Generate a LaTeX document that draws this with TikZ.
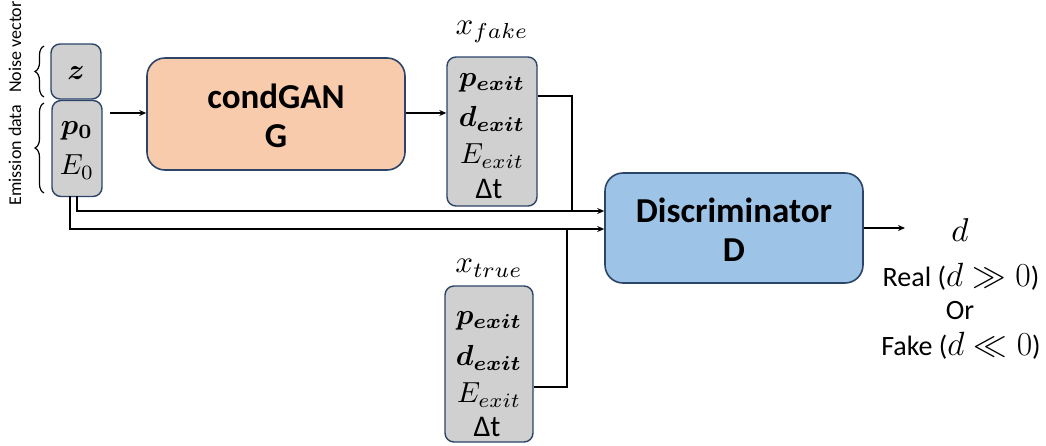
\documentclass[tikz,border=0pt]{standalone}
\usepackage{amsmath,bm,graphicx}
\usepackage{fontspec}
\setmainfont{Carlito}
\usetikzlibrary{arrows.meta,decorations.pathreplacing}
\definecolor{bordc}{HTML}{2B4468}
\definecolor{grayf}{HTML}{D0D0D0}
\definecolor{orangef}{HTML}{F8CBAD}
\definecolor{bluef}{HTML}{9DC3E6}
\newcommand{\mybm}[1]{\scalebox{2.9}{$#1$}}
\newcommand{\mymm}[1]{\scalebox{3.1}{$#1$}}
\tikzset{
  box/.style={draw=bordc, line width=1.4pt, rounded corners=9pt, inner sep=0pt},
  bigbox/.style={draw=bordc, line width=1.6pt, rounded corners=18pt, inner sep=0pt},
  conn/.style={line width=1.8pt, black},
  arr/.style={conn, -{Stealth[length=7pt,width=6pt]}},
  title/.style={font=\fontsize{35}{40}\selectfont\bfseries},
  mtxt/.style={inner sep=0pt},
  rtxt/.style={font=\fontsize{28}{32}\selectfont, inner sep=0pt},
  dtxt/.style={font=\fontsize{30}{32}\selectfont, inner sep=0pt},
  side/.style={font=\fontsize{18}{20}\selectfont, rotate=90, inner sep=0pt},
  brc/.style={decorate, decoration={brace, amplitude=9pt}, line width=1.2pt}
}
\begin{document}
\begin{tikzpicture}[x=1pt,y=-1pt]
\useasboundingbox (0,0) rectangle (1046,445);
% left input boxes
\node[box, fill=grayf, minimum width=50pt, minimum height=55pt] (zbox) at (76,71.5) {};
\node[mtxt] (zt) at (76,73) {\mybm{\bm{z}}};
\node[box, fill=grayf, minimum width=50pt, minimum height=96pt] (pbox) at (77,148.5) {};
\node[mtxt] (p0) at (77,131) {\mybm{\bm{p_0}}};
\node[mtxt] (e0) at (77,167) {\mybm{E_0}};
% braces and side labels
\draw[brc] (44,97) -- (44,46);
\draw[brc] (44,193) -- (44,103);
\node[side] (nv) at (15,47) {Noise vector};
\node[side] (ed) at (15,155) {Emission data};
% generator
\node[bigbox, fill=orangef, minimum width=258pt, minimum height=112pt] (gen) at (276,114) {};
\node[title] (gt1) at (276,96) {condGAN};
\node[title] (gt2) at (276,136) {G};
% x_fake
\node[box, fill=grayf, minimum width=90pt, minimum height=149pt] (xf) at (492,131.5) {};
\node[mtxt] (xfl) at (492,32) {\mymm{x_{fake}}};
\node[mtxt] (xf1) at (492,83) {\mybm{\bm{p_{exit}}}};
\node[mtxt] (xf2) at (492,119) {\mybm{\bm{d_{exit}}}};
\node[mtxt] (xf3) at (492,156) {\mybm{E_{exit}}};
\node[dtxt] (xf4) at (489,189) {Δt};
% x_true
\node[box, fill=grayf, minimum width=88pt, minimum height=156pt] (xt) at (489,364) {};
\node[mtxt] (xtl) at (489,268) {\mymm{x_{true}}};
\node[mtxt] (xt1) at (489,321) {\mybm{\bm{p_{exit}}}};
\node[mtxt] (xt2) at (489,358) {\mybm{\bm{d_{exit}}}};
\node[mtxt] (xt3) at (489,395) {\mybm{E_{exit}}};
\node[dtxt] (xt4) at (487,427) {Δt};
% discriminator
\node[bigbox, fill=bluef, minimum width=258pt, minimum height=110pt] (disc) at (734,228) {};
\node[title] (dt1) at (734,210) {Discriminator};
\node[title] (dt2) at (734,250) {D};
% output
\node[mtxt] (dout) at (960,230) {\scalebox{3.3}{$d$}};
\node[rtxt] (real) at (961,277) {Real (\scalebox{1.35}{$d \gg 0$})};
\node[rtxt] (or) at (960,311) {Or};
\node[rtxt] (fake) at (961,346) {Fake (\scalebox{1.35}{$d \ll 0$})};
% connectors
\coordinate (pa) at (110,113);
\draw[arr] (pa) -- (gen.west |- pa);
\draw[arr] (gen.east |- pa) -- (xf.west |- pa);
\coordinate (fk) at (572,96);
\coordinate (tk) at (567,387);
\coordinate (j1) at (572,211);
\coordinate (j2) at (567,229);
\coordinate (s1) at (77,196);
\coordinate (s2) at (70,196);
\draw[conn] (xf.east |- fk) -- (fk) -- (j1);
\draw[conn] (xt.east |- tk) -- (tk) -- (j2);
\draw[arr] (s1) -- (s1 |- j1) -- (disc.west |- j1);
\draw[arr] (s2) -- (s2 |- j2) -- (disc.west |- j2);
\coordinate (oe) at (905,228);
\draw[arr] (disc.east |- oe) -- (oe);
\end{tikzpicture}
\end{document}
